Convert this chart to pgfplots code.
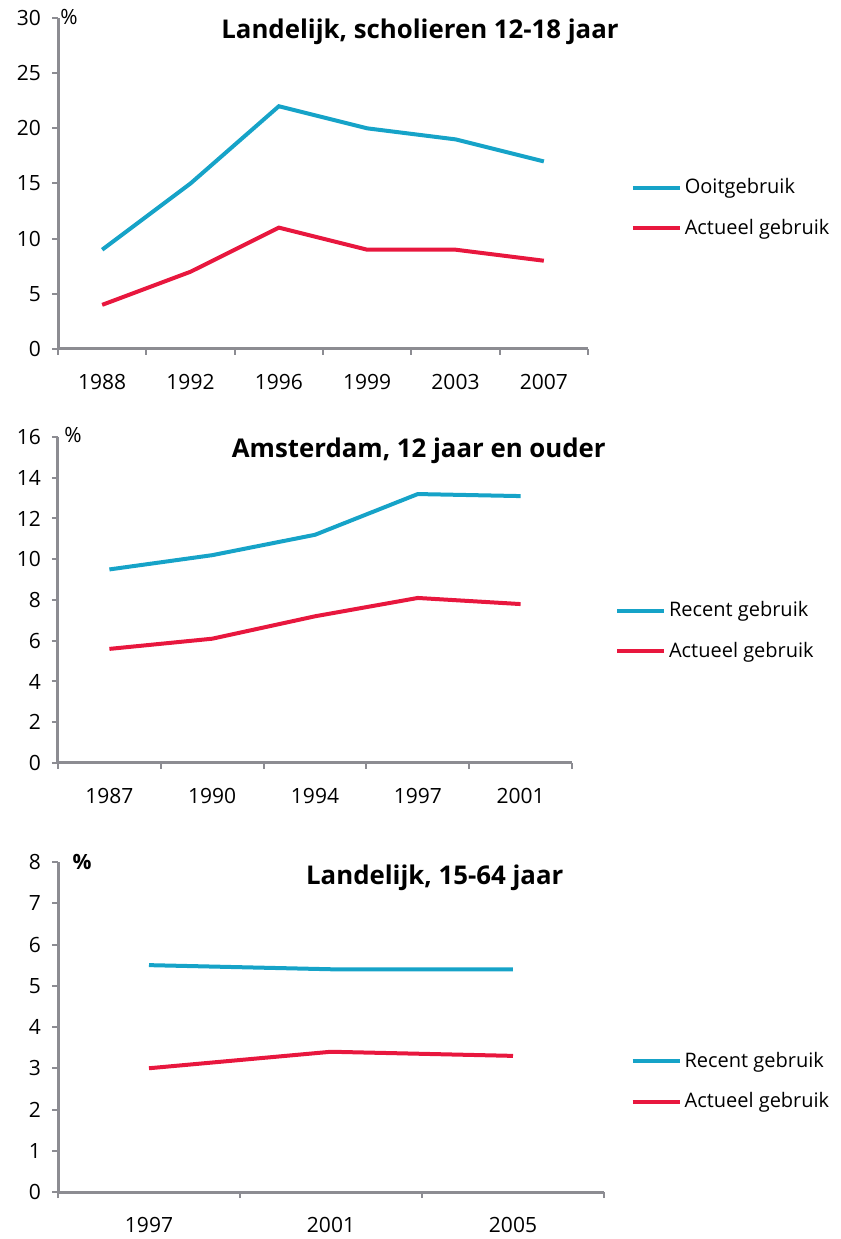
\documentclass[border=0pt]{standalone}
\usepackage{pgfplots}
\pgfplotsset{compat=1.18}
\usepackage{fontspec}
\setmainfont{Open Sans}
\definecolor{axgray}{RGB}{140,140,146}
\definecolor{cblue}{RGB}{22,163,200}
\definecolor{cred}{RGB}{232,23,62}
\tikzset{ttl/.style={font=\bfseries\fontsize{12.9}{15}\selectfont}}
\pgfplotsset{
  panel/.style={
    scale only axis,
    axis lines*=left,
    axis line style={draw=axgray, line width=1.5pt, -},
    tick align=outside,
    major tick length=3pt,
    minor tick length=3pt,
    tick style={draw=axgray, line width=1pt},
    major x tick style={draw=none},
    ymin=0,
    clip=false,
    /pgf/number format/assume math mode=true,
    tick label style={font=\fontsize{10.5}{12}\selectfont, text=black},
    xticklabel style={yshift=-6pt},
    yticklabel style={xshift=-2pt},
    legend style={draw=none, fill=none, inner sep=0pt, anchor=west,
      font=\fontsize{10}{12}\selectfont, row sep=8pt,
      nodes={inner sep=1.5pt}},
    legend cell align=left,
    legend image code/.code={\draw[##1, line width=2pt] (0pt,0pt) -- (23.5pt,0pt);},
    every axis plot/.append style={line width=2pt},
  },
}
\begin{document}
\begin{tikzpicture}
\useasboundingbox (0,0) rectangle (420.5pt,619.5pt);
% Panel 1
\begin{axis}[panel, at={(29pt,445pt)}, anchor=south west,
  width=265pt, height=165.5pt,
  xmin=-0.5, xmax=5.5, ymax=30,
  xtick={0,1,2,3,4,5},
  xticklabels={1988,1992,1996,1999,2003,2007},
  minor xtick={-0.5,0.5,1.5,2.5,3.5,4.5,5.5},
  ytick={0,5,10,15,20,25,30},
  legend style={at={(axis description cs:1.08,0.426)}},
]
\addplot[cblue] coordinates {(0,9) (1,15) (2,22) (3,20) (4,19) (5,17)};
\addlegendentry{Ooitgebruik}
\addplot[cred] coordinates {(0,4) (1,7) (2,11) (3,9) (4,9) (5,8)};
\addlegendentry{Actueel gebruik}
\node[ttl] at (axis description cs:0.683,0.957) {Landelijk, scholieren 12-18 jaar};
\node[font=\fontsize{10.5}{12}\selectfont] at (axis description cs:0.021,1.003) {\%};
\end{axis}
% Panel 2
\begin{axis}[panel, at={(29pt,238pt)}, anchor=south west,
  width=257pt, height=163pt,
  xmin=-0.5, xmax=4.5, ymax=16,
  xtick={0,1,2,3,4},
  xticklabels={1987,1990,1994,1997,2001},
  minor xtick={-0.5,0.5,1.5,2.5,3.5,4.5},
  ytick={0,2,4,6,8,10,12,14,16},
  legend style={at={(axis description cs:1.083,0.405)}},
]
\addplot[cblue] coordinates {(0,9.5) (1,10.2) (2,11.2) (3,13.2) (4,13.1)};
\addlegendentry{Recent gebruik}
\addplot[cred] coordinates {(0,5.6) (1,6.1) (2,7.2) (3,8.1) (4,7.8)};
\addlegendentry{Actueel gebruik}
\node[ttl] at (axis description cs:0.702,0.958) {Amsterdam, 12 jaar en ouder};
\node[font=\fontsize{10.5}{12}\selectfont] at (axis description cs:0.029,1.006) {\%};
\end{axis}
% Panel 3
\begin{axis}[panel, at={(29pt,23.5pt)}, anchor=south west,
  width=273pt, height=165pt,
  xmin=-0.5, xmax=2.5, ymax=8,
  xtick={0,1,2},
  xticklabels={1997,2001,2005},
  minor xtick={-0.5,0.5,1.5,2.5},
  ytick={0,1,2,3,4,5,6,7,8},
  legend style={at={(axis description cs:1.048,0.335)}},
]
\addplot[cblue] coordinates {(0,5.5) (1,5.4) (2,5.4)};
\addlegendentry{Recent gebruik}
\addplot[cred] coordinates {(0,3.0) (1,3.4) (2,3.3)};
\addlegendentry{Actueel gebruik}
\node[ttl] at (axis description cs:0.690,0.953) {Landelijk, 15-64 jaar};
\node[font=\bfseries\fontsize{10.5}{12}\selectfont] at (axis description cs:0.044,1.0) {\%};
\end{axis}
\end{tikzpicture}
\end{document}
